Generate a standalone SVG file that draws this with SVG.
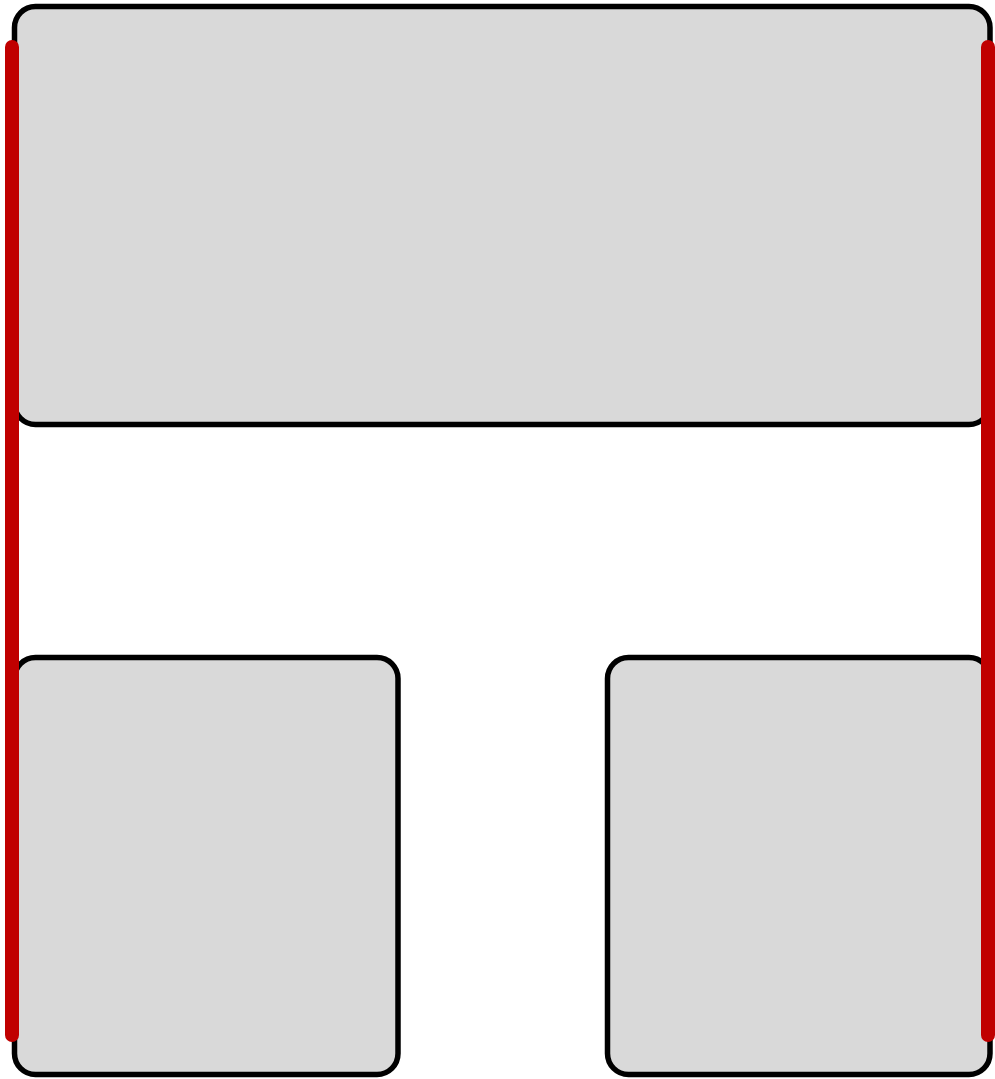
<svg xmlns="http://www.w3.org/2000/svg" width="995" height="1079" viewBox="0 0 995 1079">
<style>
.box{fill:#d9d9d9;stroke:#000;stroke-width:5.5}
.red{stroke:#c00000;stroke-width:14;stroke-linecap:round;fill:none}
</style>
<rect width="995" height="1079" fill="#fff"/>
<g id="top-box"><rect class="box" x="14.5" y="6.5" width="975.5" height="418" rx="21"/></g>
<g id="bottom-left-box"><rect class="box" x="14.5" y="657.5" width="383.5" height="417" rx="21"/></g>
<g id="bottom-right-box"><rect class="box" x="607.5" y="657.5" width="382.5" height="417" rx="21"/></g>
<g id="connectors">
<line class="red" x1="12" y1="47" x2="12" y2="1035"/>
<line class="red" x1="988" y1="47" x2="988" y2="1035"/>
</g>
</svg>
